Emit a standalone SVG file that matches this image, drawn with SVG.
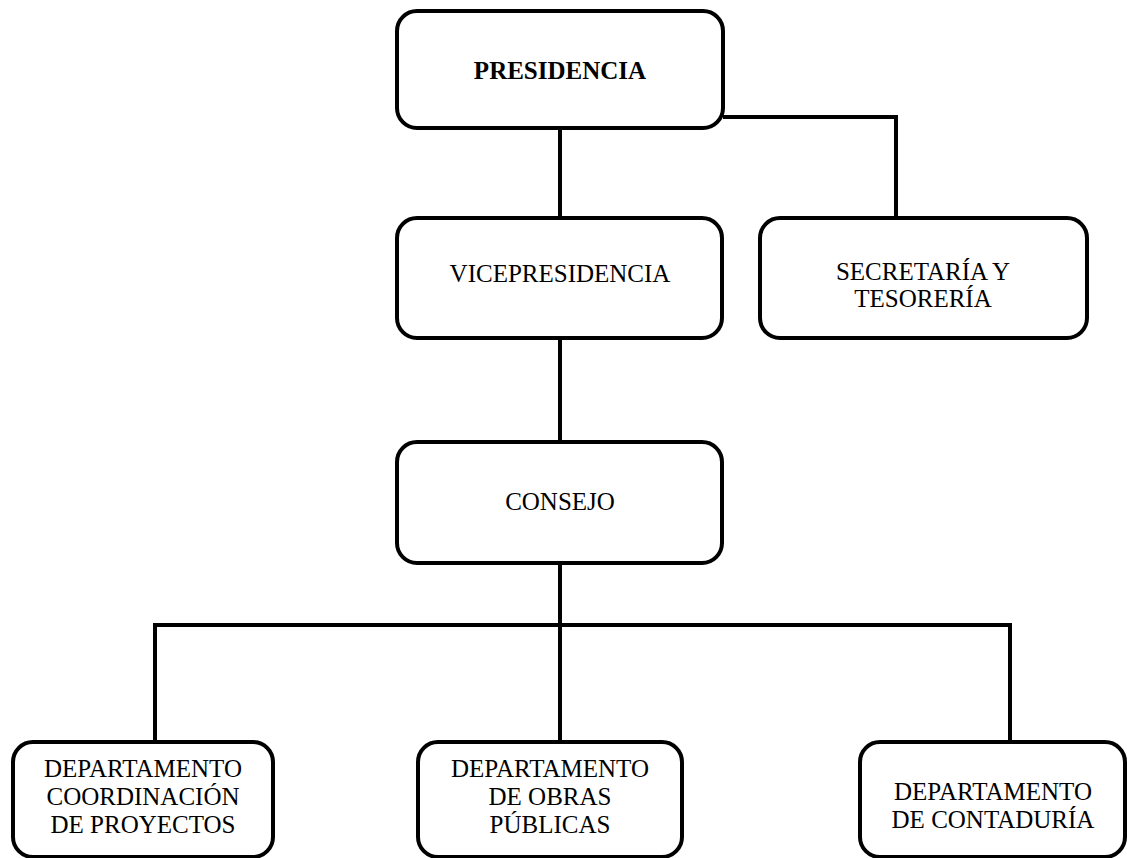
<svg xmlns="http://www.w3.org/2000/svg" width="1127" height="858" viewBox="0 0 1127 858">
<style>
.box{fill:#fff;stroke:#000;stroke-width:4}
.ln{fill:none;stroke:#000;stroke-width:4}
.t{font-family:'Liberation Serif','Times New Roman',serif;font-size:25px;fill:#000;text-anchor:middle}
.b{font-weight:bold}
</style>
<rect width="1127" height="858" fill="#fff"/>
<g id="connectors">
<path class="ln" d="M560 128V218"/>
<path class="ln" d="M723 117H896V218"/>
<path class="ln" d="M560 338V442"/>
<path class="ln" d="M560 563V742"/>
<path class="ln" d="M155 742V625H1010V742"/>
</g>
<g id="presidencia">
<rect class="box" x="397" y="11" width="326" height="117" rx="20"/>
<text class="t b" x="560" y="79">PRESIDENCIA</text>
</g>
<g id="vicepresidencia">
<rect class="box" x="397" y="218" width="325" height="120" rx="20"/>
<text class="t" x="560" y="282">VICEPRESIDENCIA</text>
</g>
<g id="secretaria">
<rect class="box" x="760" y="218" width="327" height="120" rx="20"/>
<text class="t" x="923" y="280">SECRETARÍA Y</text>
<text class="t" x="923" y="307">TESORERÍA</text>
</g>
<g id="consejo">
<rect class="box" x="397" y="442" width="325" height="121" rx="20"/>
<text class="t" x="560" y="510">CONSEJO</text>
</g>
<g id="dep-coordinacion">
<rect class="box" x="13" y="742" width="260" height="115" rx="20"/>
<text class="t" x="143" y="777">DEPARTAMENTO</text>
<text class="t" x="143" y="805">COORDINACIÓN</text>
<text class="t" x="143" y="833">DE PROYECTOS</text>
</g>
<g id="dep-obras">
<rect class="box" x="418" y="742" width="264" height="115" rx="20"/>
<text class="t" x="550" y="777">DEPARTAMENTO</text>
<text class="t" x="550" y="805">DE OBRAS</text>
<text class="t" x="550" y="833">PÚBLICAS</text>
</g>
<g id="dep-contaduria">
<rect class="box" x="860" y="742" width="265" height="115" rx="20"/>
<text class="t" x="993" y="800">DEPARTAMENTO</text>
<text class="t" x="993" y="828">DE CONTADURÍA</text>
</g>
</svg>
